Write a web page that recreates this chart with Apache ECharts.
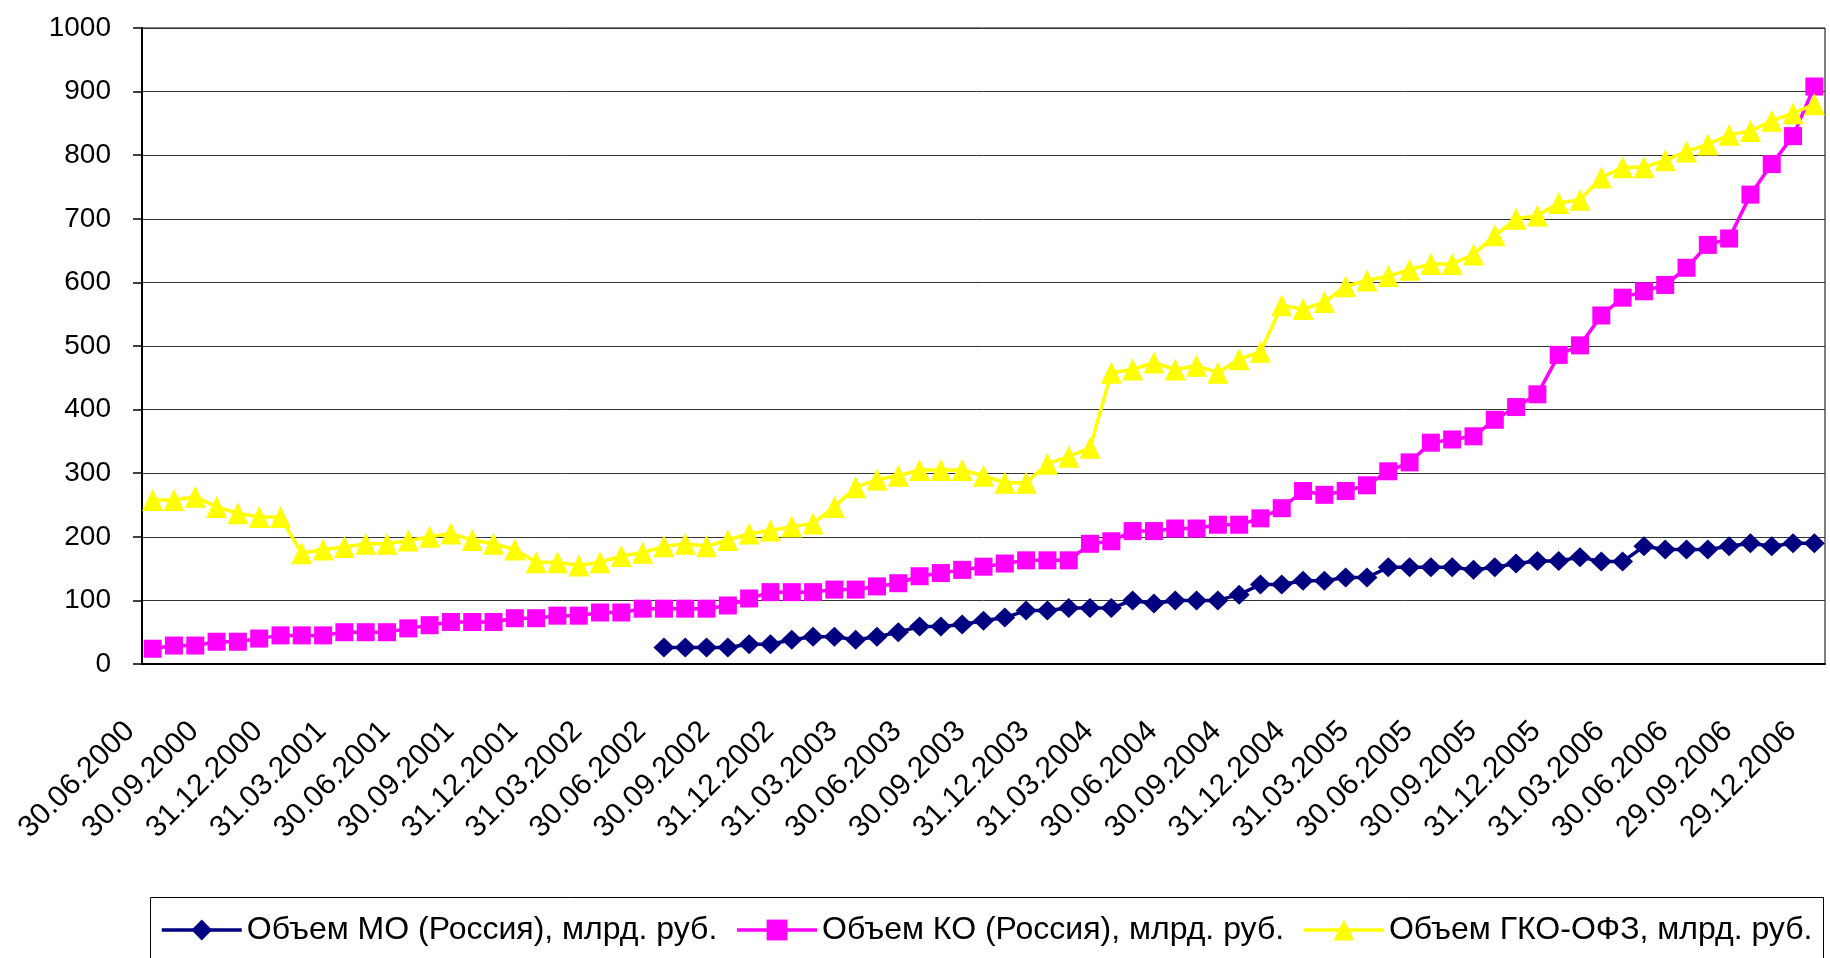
<!DOCTYPE html>
<html>
<head>
<meta charset="utf-8">
<script src="https://cdn.jsdelivr.net/npm/echarts@6/dist/echarts.min.js"></script>
<style>
  html, body { margin: 0; padding: 0; background: #fff; }
  #chart { width: 1830px; height: 958px; }
</style>
</head>
<body>
<div id="chart"></div>
<script>
// Month-end reporting dates
var dates = [
  '30.06.2000','31.07.2000','31.08.2000','30.09.2000','31.10.2000','30.11.2000','31.12.2000',
  '31.01.2001','28.02.2001','31.03.2001','30.04.2001','31.05.2001','30.06.2001','31.07.2001','31.08.2001','30.09.2001','31.10.2001','30.11.2001','31.12.2001',
  '31.01.2002','28.02.2002','31.03.2002','30.04.2002','31.05.2002','30.06.2002','31.07.2002','31.08.2002','30.09.2002','31.10.2002','30.11.2002','31.12.2002',
  '31.01.2003','28.02.2003','31.03.2003','30.04.2003','31.05.2003','30.06.2003','31.07.2003','31.08.2003','30.09.2003','31.10.2003','30.11.2003','31.12.2003',
  '31.01.2004','29.02.2004','31.03.2004','30.04.2004','31.05.2004','30.06.2004','31.07.2004','31.08.2004','30.09.2004','31.10.2004','30.11.2004','31.12.2004',
  '31.01.2005','28.02.2005','31.03.2005','30.04.2005','31.05.2005','30.06.2005','31.07.2005','31.08.2005','30.09.2005','31.10.2005','30.11.2005','31.12.2005',
  '31.01.2006','28.02.2006','31.03.2006','30.04.2006','31.05.2006','30.06.2006','31.07.2006','31.08.2006','29.09.2006','31.10.2006','30.11.2006','29.12.2006'
];

// Municipal bonds (MO), bn RUB — market starts in mid-2002
var moVolume = [
  null,null,null,null,null,null,null,
  null,null,null,null,null,null,null,null,null,null,null,null,
  null,null,null,null,null,26,26,26,26,31,31,38,
  43,43,38,43,50,59,59,62,68,73,84,84,
  88,88,88,100,95,100,100,100,109,125,125,131,
  131,136,136,152,152,152,152,148,152,158,162,162,
  168,161,161,185,180,180,180,185,190,185,190,190
];

// Corporate bonds (KO), bn RUB
var koVolume = [
  24,29,29,35,35,40,45,
  45,45,50,50,50,56,61,66,66,66,72,72,
  76,76,81,81,87,87,87,87,92,103,113,113,
  113,117,117,122,127,138,143,148,153,158,163,163,
  163,189,193,209,209,213,213,219,219,229,245,272,
  266,272,281,303,317,348,353,358,384,404,424,486,
  501,548,576,586,596,623,659,669,738,786,830,908
];

// Federal bonds (GKO-OFZ), bn RUB
var gkoVolume = [
  258,258,263,247,237,231,231,
  174,180,184,189,189,194,200,205,195,189,180,160,
  160,155,160,170,175,185,189,185,195,205,210,216,
  221,247,278,290,296,305,305,305,296,285,285,315,
  326,340,458,463,474,463,469,458,479,491,564,558,
  569,594,603,610,620,629,629,644,674,700,705,725,
  730,765,781,781,792,806,817,832,838,854,866,880
];

var seriesNames = [
  'Объем МО (Россия), млрд. руб.',
  'Объем КО (Россия), млрд. руб.',
  'Объем ГКО-ОФЗ, млрд. руб.'
];

var FONT = '"Liberation Sans", Arial, sans-serif';

var chart = echarts.init(document.getElementById('chart'), null, { renderer: 'canvas' });

chart.setOption({
  animation: false,
  backgroundColor: '#ffffff',
  textStyle: { fontFamily: FONT, color: '#000' },
  grid: {
    left: 142, right: 5, top: 28, bottom: 294,
    show: true, borderColor: '#000', borderWidth: 1
  },
  legend: {
    left: 160, top: 914, padding: 0,
    itemWidth: 80, itemHeight: 26, itemGap: 18,
    lineStyle: { width: 3.5 },
    textStyle: { fontFamily: FONT, fontSize: 32, color: '#000' },
    data: seriesNames
  },
  graphic: [{
    type: 'rect', left: 148, top: 895, z: -1,
    shape: { width: 1673, height: 120 },
    style: { fill: 'none', stroke: '#000', lineWidth: 1 }
  }],
  xAxis: {
    type: 'category',
    data: dates,
    boundaryGap: true,
    axisLine: { lineStyle: { color: '#000', width: 2 } },
    axisTick: { interval: 0, length: 9, lineStyle: { color: '#222', width: 1 } },
    axisLabel: {
      interval: 2, rotate: 45, margin: 40,
      padding: [0, 32, 0, 0],
      fontFamily: FONT, fontSize: 30, color: '#000'
    },
    splitLine: { show: false }
  },
  yAxis: {
    type: 'value',
    min: 0, max: 1000, interval: 100,
    axisLine: { show: true, lineStyle: { color: '#000', width: 2 } },
    axisTick: { show: true, length: 9, lineStyle: { color: '#000', width: 1.5 } },
    axisLabel: {
      margin: 31, padding: [0, 0, 10, 0],
      fontFamily: FONT, fontSize: 28, color: '#000',
      formatter: function (v) { return String(v); }
    },
    splitLine: { lineStyle: { color: '#333', width: 1 } }
  },
  series: [
    {
      name: seriesNames[0], type: 'line', data: moVolume,
      symbol: 'diamond', symbolSize: [21, 20], showAllSymbol: true,
      connectNulls: false,
      itemStyle: { color: '#000080' },
      lineStyle: { color: '#000080', width: 3.5 }
    },
    {
      name: seriesNames[1], type: 'line', data: koVolume,
      symbol: 'rect', symbolSize: 18, showAllSymbol: true,
      itemStyle: { color: '#FF00FF' },
      lineStyle: { color: '#FF00FF', width: 3.5 }
    },
    {
      name: seriesNames[2], type: 'line', data: gkoVolume,
      symbol: 'triangle', symbolSize: [21, 22], showAllSymbol: true,
      itemStyle: { color: '#FFFF00' },
      lineStyle: { color: '#FFFF00', width: 3.5 }
    }
  ]
});
</script>
</body>
</html>
